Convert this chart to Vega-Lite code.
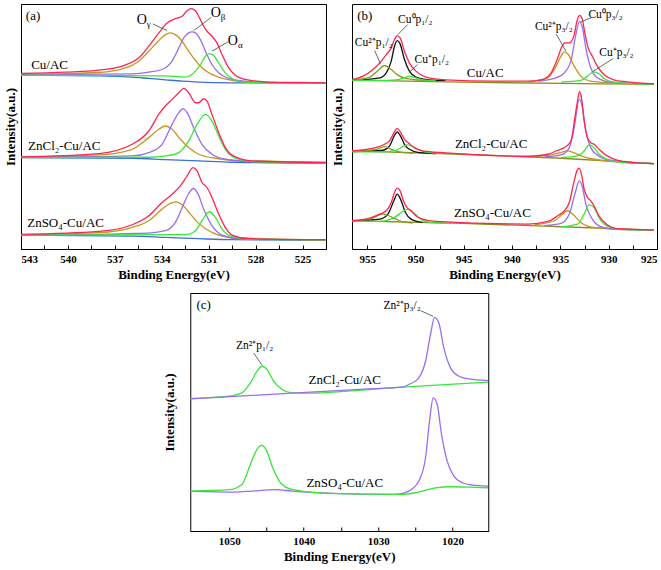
{
  "$schema": "https://vega.github.io/schema/vega-lite/v6.json",
  "padding": {"left": 3, "top": 3, "right": 0, "bottom": 0},
  "background": "white",
  "config": {
    "view": {"stroke": "#000", "strokeWidth": 1},
    "axis": {
      "grid": false,
      "labelFont": "Liberation Serif",
      "labelFontWeight": "bold",
      "labelFontSize": 11,
      "labelColor": "#000",
      "titleFont": "Liberation Serif",
      "titleFontWeight": "bold",
      "titleFontSize": 13,
      "titleColor": "#000",
      "domainColor": "#000",
      "tickColor": "#000",
      "labelOverlap": false,
      "labelBound": false
    }
  },
  "datasets": {
    "a": [
      {"s":1,"k":"bg","x":543.00,"y":523},{"s":1,"k":"bg","x":538.02,"y":521},{"s":1,"k":"bg","x":535.89,"y":517},{"s":1,"k":"bg","x":534.83,"y":513},{"s":1,"k":"bg","x":533.77,"y":509},{"s":1,"k":"bg","x":532.70,"y":505},{"s":1,"k":"bg","x":531.64,"y":502},{"s":1,"k":"bg","x":529.51,"y":500},{"s":1,"k":"bg","x":523.51,"y":499},
      {"s":1,"k":"g","x":543.00,"y":525},{"s":1,"k":"g","x":538.02,"y":531},{"s":1,"k":"g","x":536.32,"y":545},{"s":1,"k":"g","x":535.47,"y":565},{"s":1,"k":"g","x":534.83,"y":595},{"s":1,"k":"g","x":534.19,"y":627},{"s":1,"k":"g","x":533.77,"y":645},{"s":1,"k":"g","x":533.45,"y":650},{"s":1,"k":"g","x":533.13,"y":645},{"s":1,"k":"g","x":532.70,"y":625},{"s":1,"k":"g","x":532.28,"y":595},{"s":1,"k":"g","x":531.64,"y":555},{"s":1,"k":"g","x":531.00,"y":530},{"s":1,"k":"g","x":530.36,"y":517},{"s":1,"k":"g","x":529.51,"y":507},{"s":1,"k":"g","x":528.45,"y":502},{"s":1,"k":"g","x":523.51,"y":499},
      {"s":1,"k":"b","x":543.00,"y":524},{"s":1,"k":"b","x":535.89,"y":527},{"s":1,"k":"b","x":534.83,"y":532},{"s":1,"k":"b","x":533.98,"y":540},{"s":1,"k":"b","x":533.34,"y":565},{"s":1,"k":"b","x":532.91,"y":605},{"s":1,"k":"b","x":532.60,"y":635},{"s":1,"k":"b","x":532.28,"y":650},{"s":1,"k":"b","x":532.06,"y":653},{"s":1,"k":"b","x":531.85,"y":650},{"s":1,"k":"b","x":531.53,"y":630},{"s":1,"k":"b","x":531.21,"y":595},{"s":1,"k":"b","x":530.79,"y":555},{"s":1,"k":"b","x":530.36,"y":530},{"s":1,"k":"b","x":529.72,"y":513},{"s":1,"k":"b","x":529.09,"y":507},{"s":1,"k":"b","x":527.38,"y":501},{"s":1,"k":"b","x":523.51,"y":499},
      {"s":1,"k":"al","x":543.00,"y":523},{"s":1,"k":"al","x":533.77,"y":521},{"s":1,"k":"al","x":532.49,"y":517},{"s":1,"k":"al","x":531.85,"y":535},{"s":1,"k":"al","x":531.53,"y":555},{"s":1,"k":"al","x":531.21,"y":580},{"s":1,"k":"al","x":530.96,"y":588},{"s":1,"k":"al","x":530.68,"y":582},{"s":1,"k":"al","x":530.36,"y":560},{"s":1,"k":"al","x":529.94,"y":530},{"s":1,"k":"al","x":529.51,"y":513},{"s":1,"k":"al","x":528.87,"y":503},{"s":1,"k":"al","x":527.38,"y":500},{"s":1,"k":"al","x":523.51,"y":499},
      {"s":1,"k":"env","x":543.00,"y":528},{"s":1,"k":"env","x":540.15,"y":532},{"s":1,"k":"env","x":538.02,"y":538},{"s":1,"k":"env","x":536.53,"y":550},{"s":1,"k":"env","x":535.47,"y":575},{"s":1,"k":"env","x":534.83,"y":610},{"s":1,"k":"env","x":534.19,"y":650},{"s":1,"k":"env","x":533.66,"y":680},{"s":1,"k":"env","x":533.13,"y":693},{"s":1,"k":"env","x":532.70,"y":700},{"s":1,"k":"env","x":532.38,"y":717},{"s":1,"k":"env","x":532.13,"y":723},{"s":1,"k":"env","x":531.85,"y":717},{"s":1,"k":"env","x":531.64,"y":700},{"s":1,"k":"env","x":531.32,"y":670},{"s":1,"k":"env","x":531.11,"y":655},{"s":1,"k":"env","x":530.79,"y":640},{"s":1,"k":"env","x":530.47,"y":620},{"s":1,"k":"env","x":530.15,"y":585},{"s":1,"k":"env","x":529.72,"y":545},{"s":1,"k":"env","x":529.30,"y":523},{"s":1,"k":"env","x":528.66,"y":510},{"s":1,"k":"env","x":527.38,"y":503},{"s":1,"k":"env","x":525.26,"y":501},{"s":1,"k":"env","x":523.51,"y":500},

      {"s":2,"k":"bg","x":543.00,"y":275},{"s":2,"k":"bg","x":535.89,"y":273},{"s":2,"k":"bg","x":533.77,"y":269},{"s":2,"k":"bg","x":531.64,"y":265},{"s":2,"k":"bg","x":529.51,"y":261},{"s":2,"k":"bg","x":523.51,"y":258},
      {"s":2,"k":"g","x":543.00,"y":277},{"s":2,"k":"g","x":538.02,"y":283},{"s":2,"k":"g","x":535.89,"y":300},{"s":2,"k":"g","x":534.83,"y":335},{"s":2,"k":"g","x":534.19,"y":360},{"s":2,"k":"g","x":533.77,"y":370},{"s":2,"k":"g","x":533.34,"y":360},{"s":2,"k":"g","x":532.81,"y":330},{"s":2,"k":"g","x":532.28,"y":305},{"s":2,"k":"g","x":531.64,"y":285},{"s":2,"k":"g","x":530.57,"y":273},{"s":2,"k":"g","x":529.51,"y":267},{"s":2,"k":"g","x":523.51,"y":261},
      {"s":2,"k":"b","x":543.00,"y":276},{"s":2,"k":"b","x":535.89,"y":280},{"s":2,"k":"b","x":534.83,"y":290},{"s":2,"k":"b","x":533.98,"y":315},{"s":2,"k":"b","x":533.34,"y":375},{"s":2,"k":"b","x":532.91,"y":410},{"s":2,"k":"b","x":532.64,"y":422},{"s":2,"k":"b","x":532.38,"y":410},{"s":2,"k":"b","x":531.96,"y":365},{"s":2,"k":"b","x":531.43,"y":315},{"s":2,"k":"b","x":530.79,"y":285},{"s":2,"k":"b","x":529.94,"y":270},{"s":2,"k":"b","x":528.45,"y":263},{"s":2,"k":"b","x":523.51,"y":259},
      {"s":2,"k":"al","x":543.00,"y":275},{"s":2,"k":"al","x":534.83,"y":276},{"s":2,"k":"al","x":533.77,"y":280},{"s":2,"k":"al","x":532.91,"y":290},{"s":2,"k":"al","x":532.28,"y":325},{"s":2,"k":"al","x":531.74,"y":375},{"s":2,"k":"al","x":531.21,"y":405},{"s":2,"k":"al","x":530.79,"y":385},{"s":2,"k":"al","x":530.36,"y":340},{"s":2,"k":"al","x":529.94,"y":300},{"s":2,"k":"al","x":529.30,"y":273},{"s":2,"k":"al","x":528.23,"y":263},{"s":2,"k":"al","x":523.51,"y":258},
      {"s":2,"k":"env","x":543.00,"y":277},{"s":2,"k":"env","x":538.02,"y":287},{"s":2,"k":"env","x":535.89,"y":315},{"s":2,"k":"env","x":534.83,"y":355},{"s":2,"k":"env","x":534.19,"y":405},{"s":2,"k":"env","x":533.77,"y":430},{"s":2,"k":"env","x":533.34,"y":450},{"s":2,"k":"env","x":532.91,"y":470},{"s":2,"k":"env","x":532.60,"y":483},{"s":2,"k":"env","x":532.28,"y":470},{"s":2,"k":"env","x":531.85,"y":440},{"s":2,"k":"env","x":531.64,"y":440},{"s":2,"k":"env","x":531.32,"y":452},{"s":2,"k":"env","x":531.11,"y":445},{"s":2,"k":"env","x":530.79,"y":405},{"s":2,"k":"env","x":530.36,"y":350},{"s":2,"k":"env","x":529.94,"y":305},{"s":2,"k":"env","x":529.30,"y":277},{"s":2,"k":"env","x":528.23,"y":265},{"s":2,"k":"env","x":523.51,"y":260},

      {"s":3,"k":"bg","x":543.00,"y":42},{"s":3,"k":"bg","x":535.89,"y":39},{"s":3,"k":"bg","x":533.77,"y":35},{"s":3,"k":"bg","x":531.64,"y":31},{"s":3,"k":"bg","x":529.51,"y":28},{"s":3,"k":"bg","x":523.51,"y":27},
      {"s":3,"k":"g","x":543.00,"y":43},{"s":3,"k":"g","x":538.02,"y":49},{"s":3,"k":"g","x":535.89,"y":65},{"s":3,"k":"g","x":534.83,"y":85},{"s":3,"k":"g","x":533.98,"y":120},{"s":3,"k":"g","x":533.45,"y":137},{"s":3,"k":"g","x":533.09,"y":142},{"s":3,"k":"g","x":532.70,"y":133},{"s":3,"k":"g","x":532.17,"y":105},{"s":3,"k":"g","x":531.64,"y":77},{"s":3,"k":"g","x":530.79,"y":50},{"s":3,"k":"g","x":529.51,"y":35},{"s":3,"k":"g","x":523.51,"y":27},
      {"s":3,"k":"b","x":543.00,"y":42},{"s":3,"k":"b","x":534.83,"y":48},{"s":3,"k":"b","x":533.77,"y":55},{"s":3,"k":"b","x":533.13,"y":80},{"s":3,"k":"b","x":532.60,"y":135},{"s":3,"k":"b","x":532.28,"y":167},{"s":3,"k":"b","x":531.98,"y":182},{"s":3,"k":"b","x":531.68,"y":165},{"s":3,"k":"b","x":531.32,"y":120},{"s":3,"k":"b","x":530.79,"y":70},{"s":3,"k":"b","x":530.15,"y":42},{"s":3,"k":"b","x":529.09,"y":31},{"s":3,"k":"b","x":523.51,"y":27},
      {"s":3,"k":"al","x":543.00,"y":42},{"s":3,"k":"al","x":532.49,"y":43},{"s":3,"k":"al","x":531.85,"y":55},{"s":3,"k":"al","x":531.43,"y":85},{"s":3,"k":"al","x":530.96,"y":112},{"s":3,"k":"al","x":530.57,"y":95},{"s":3,"k":"al","x":530.15,"y":60},{"s":3,"k":"al","x":529.51,"y":37},{"s":3,"k":"al","x":528.45,"y":29},{"s":3,"k":"al","x":523.51,"y":27},
      {"s":3,"k":"env","x":543.00,"y":44},{"s":3,"k":"env","x":538.02,"y":53},{"s":3,"k":"env","x":535.89,"y":73},{"s":3,"k":"env","x":534.83,"y":100},{"s":3,"k":"env","x":533.98,"y":140},{"s":3,"k":"env","x":533.34,"y":165},{"s":3,"k":"env","x":532.81,"y":190},{"s":3,"k":"env","x":532.38,"y":220},{"s":3,"k":"env","x":532.00,"y":245},{"s":3,"k":"env","x":531.74,"y":235},{"s":3,"k":"env","x":531.43,"y":200},{"s":3,"k":"env","x":531.11,"y":185},{"s":3,"k":"env","x":530.79,"y":155},{"s":3,"k":"env","x":530.36,"y":105},{"s":3,"k":"env","x":529.94,"y":65},{"s":3,"k":"env","x":529.51,"y":42},{"s":3,"k":"env","x":528.45,"y":31},{"s":3,"k":"env","x":523.51,"y":28}
    ],
    "b": [
      {"s":1,"k":"bgb","x":956.57,"y":508},{"s":1,"k":"bgb","x":945.17,"y":502},{"s":1,"k":"bgb","x":934.93,"y":498},{"s":1,"k":"bgb","x":925.31,"y":496},
      {"s":1,"k":"c0a","x":956.57,"y":507},{"s":1,"k":"c0a","x":953.70,"y":515},{"s":1,"k":"c0a","x":953.02,"y":530},{"s":1,"k":"c0a","x":952.51,"y":565},{"s":1,"k":"c0a","x":952.17,"y":610},{"s":1,"k":"c0a","x":951.89,"y":627},{"s":1,"k":"c0a","x":951.59,"y":617},{"s":1,"k":"c0a","x":951.14,"y":570},{"s":1,"k":"c0a","x":950.63,"y":535},{"s":1,"k":"c0a","x":949.95,"y":517},{"s":1,"k":"c0a","x":948.58,"y":509},{"s":1,"k":"c0a","x":946.88,"y":507},
      {"s":1,"k":"c2a","x":956.57,"y":508},{"s":1,"k":"c2a","x":954.73,"y":517},{"s":1,"k":"c2a","x":953.87,"y":537},{"s":1,"k":"c2a","x":953.19,"y":552},{"s":1,"k":"c2a","x":952.51,"y":540},{"s":1,"k":"c2a","x":951.83,"y":523},{"s":1,"k":"c2a","x":950.97,"y":513},{"s":1,"k":"c2a","x":949.61,"y":508},{"s":1,"k":"c2a","x":947.90,"y":506},
      {"s":1,"k":"c1a","x":956.57,"y":507},{"s":1,"k":"c1a","x":953.70,"y":507},{"s":1,"k":"c1a","x":952.00,"y":509},{"s":1,"k":"c1a","x":951.14,"y":515},{"s":1,"k":"c1a","x":950.63,"y":520},{"s":1,"k":"c1a","x":950.12,"y":516},{"s":1,"k":"c1a","x":949.27,"y":509},{"s":1,"k":"c1a","x":947.90,"y":506},
      {"s":1,"k":"c2b","x":938.34,"y":503},{"s":1,"k":"c2b","x":936.30,"y":515},{"s":1,"k":"c2b","x":935.44,"y":550},{"s":1,"k":"c2b","x":934.93,"y":580},{"s":1,"k":"c2b","x":934.59,"y":593},{"s":1,"k":"c2b","x":934.18,"y":585},{"s":1,"k":"c2b","x":933.57,"y":550},{"s":1,"k":"c2b","x":932.88,"y":520},{"s":1,"k":"c2b","x":931.86,"y":505},{"s":1,"k":"c2b","x":929.81,"y":500},{"s":1,"k":"c2b","x":925.31,"y":496},
      {"s":1,"k":"c0b","x":937.32,"y":505},{"s":1,"k":"c0b","x":935.61,"y":513},{"s":1,"k":"c0b","x":934.59,"y":530},{"s":1,"k":"c0b","x":933.91,"y":565},{"s":1,"k":"c0b","x":933.40,"y":645},{"s":1,"k":"c0b","x":933.02,"y":685},{"s":1,"k":"c0b","x":932.71,"y":665},{"s":1,"k":"c0b","x":932.37,"y":605},{"s":1,"k":"c0b","x":931.86,"y":545},{"s":1,"k":"c0b","x":931.18,"y":515},{"s":1,"k":"c0b","x":929.81,"y":502},{"s":1,"k":"c0b","x":925.31,"y":496},
      {"s":1,"k":"c1b","x":934.93,"y":502},{"s":1,"k":"c1b","x":932.88,"y":507},{"s":1,"k":"c1b","x":932.20,"y":520},{"s":1,"k":"c1b","x":931.52,"y":533},{"s":1,"k":"c1b","x":931.01,"y":527},{"s":1,"k":"c1b","x":930.49,"y":513},{"s":1,"k":"c1b","x":929.47,"y":502},{"s":1,"k":"c1b","x":928.11,"y":498},{"s":1,"k":"c1b","x":925.31,"y":496},
      {"s":1,"k":"env","x":956.57,"y":509},{"s":1,"k":"env","x":955.41,"y":520},{"s":1,"k":"env","x":954.39,"y":540},{"s":1,"k":"env","x":953.70,"y":560},{"s":1,"k":"env","x":953.02,"y":585},{"s":1,"k":"env","x":952.51,"y":605},{"s":1,"k":"env","x":952.17,"y":630},{"s":1,"k":"env","x":951.89,"y":642},{"s":1,"k":"env","x":951.59,"y":635},{"s":1,"k":"env","x":951.14,"y":595},{"s":1,"k":"env","x":950.63,"y":560},{"s":1,"k":"env","x":949.95,"y":535},{"s":1,"k":"env","x":948.92,"y":517},{"s":1,"k":"env","x":946.88,"y":509},{"s":1,"k":"env","x":941.76,"y":505},{"s":1,"k":"env","x":938.34,"y":505},{"s":1,"k":"env","x":936.98,"y":509},{"s":1,"k":"env","x":935.96,"y":530},{"s":1,"k":"env","x":935.27,"y":575},{"s":1,"k":"env","x":934.83,"y":610},{"s":1,"k":"env","x":934.52,"y":620},{"s":1,"k":"env","x":934.08,"y":620},{"s":1,"k":"env","x":933.57,"y":645},{"s":1,"k":"env","x":933.29,"y":685},{"s":1,"k":"env","x":933.02,"y":703},{"s":1,"k":"env","x":932.75,"y":693},{"s":1,"k":"env","x":932.47,"y":650},{"s":1,"k":"env","x":932.13,"y":605},{"s":1,"k":"env","x":931.69,"y":580},{"s":1,"k":"env","x":931.18,"y":550},{"s":1,"k":"env","x":930.49,"y":525},{"s":1,"k":"env","x":929.47,"y":509},{"s":1,"k":"env","x":928.11,"y":503},{"s":1,"k":"env","x":925.31,"y":497},

      {"s":2,"k":"bgb","x":956.57,"y":295},{"s":2,"k":"bgb","x":945.17,"y":285},{"s":2,"k":"bgb","x":934.93,"y":273},{"s":2,"k":"bgb","x":925.31,"y":257},
      {"s":2,"k":"c0a","x":956.57,"y":293},{"s":2,"k":"c0a","x":953.36,"y":297},{"s":2,"k":"c0a","x":952.68,"y":310},{"s":2,"k":"c0a","x":952.17,"y":342},{"s":2,"k":"c0a","x":951.89,"y":352},{"s":2,"k":"c0a","x":951.59,"y":342},{"s":2,"k":"c0a","x":951.14,"y":315},{"s":2,"k":"c0a","x":950.63,"y":300},{"s":2,"k":"c0a","x":949.61,"y":290},{"s":2,"k":"c0a","x":947.90,"y":287},
      {"s":2,"k":"c2a","x":956.57,"y":294},{"s":2,"k":"c2a","x":954.04,"y":300},{"s":2,"k":"c2a","x":953.19,"y":308},{"s":2,"k":"c2a","x":952.51,"y":300},{"s":2,"k":"c2a","x":951.66,"y":292},{"s":2,"k":"c2a","x":950.29,"y":288},
      {"s":2,"k":"c1a","x":956.57,"y":292},{"s":2,"k":"c1a","x":953.70,"y":292},{"s":2,"k":"c1a","x":952.00,"y":297},{"s":2,"k":"c1a","x":951.31,"y":308},{"s":2,"k":"c1a","x":950.80,"y":313},{"s":2,"k":"c1a","x":950.29,"y":308},{"s":2,"k":"c1a","x":949.61,"y":298},{"s":2,"k":"c1a","x":948.58,"y":290},{"s":2,"k":"c1a","x":946.88,"y":288},
      {"s":2,"k":"c2b","x":938.34,"y":277},{"s":2,"k":"c2b","x":935.96,"y":283},{"s":2,"k":"c2b","x":934.93,"y":291},{"s":2,"k":"c2b","x":934.25,"y":295},{"s":2,"k":"c2b","x":933.57,"y":289},{"s":2,"k":"c2b","x":932.54,"y":277},{"s":2,"k":"c2b","x":930.84,"y":267},{"s":2,"k":"c2b","x":925.31,"y":257},
      {"s":2,"k":"c0b","x":936.64,"y":277},{"s":2,"k":"c0b","x":934.93,"y":283},{"s":2,"k":"c0b","x":934.08,"y":305},{"s":2,"k":"c0b","x":933.57,"y":365},{"s":2,"k":"c0b","x":933.05,"y":450},{"s":2,"k":"c0b","x":932.71,"y":425},{"s":2,"k":"c0b","x":932.37,"y":355},{"s":2,"k":"c0b","x":931.86,"y":305},{"s":2,"k":"c0b","x":931.18,"y":283},{"s":2,"k":"c0b","x":929.81,"y":267},{"s":2,"k":"c0b","x":925.31,"y":257},
      {"s":2,"k":"c1b","x":934.93,"y":275},{"s":2,"k":"c1b","x":933.23,"y":280},{"s":2,"k":"c1b","x":932.54,"y":295},{"s":2,"k":"c1b","x":932.03,"y":313},{"s":2,"k":"c1b","x":931.52,"y":305},{"s":2,"k":"c1b","x":931.01,"y":285},{"s":2,"k":"c1b","x":930.15,"y":270},{"s":2,"k":"c1b","x":928.79,"y":261},{"s":2,"k":"c1b","x":925.31,"y":257},
      {"s":2,"k":"env","x":956.57,"y":295},{"s":2,"k":"env","x":954.73,"y":301},{"s":2,"k":"env","x":953.70,"y":309},{"s":2,"k":"env","x":953.19,"y":315},{"s":2,"k":"env","x":952.68,"y":325},{"s":2,"k":"env","x":952.17,"y":353},{"s":2,"k":"env","x":951.89,"y":363},{"s":2,"k":"env","x":951.59,"y":353},{"s":2,"k":"env","x":951.14,"y":330},{"s":2,"k":"env","x":950.63,"y":317},{"s":2,"k":"env","x":950.12,"y":305},{"s":2,"k":"env","x":949.27,"y":295},{"s":2,"k":"env","x":946.88,"y":289},{"s":2,"k":"env","x":938.34,"y":279},{"s":2,"k":"env","x":936.30,"y":285},{"s":2,"k":"env","x":935.27,"y":297},{"s":2,"k":"env","x":934.59,"y":305},{"s":2,"k":"env","x":933.91,"y":325},{"s":2,"k":"env","x":933.50,"y":395},{"s":2,"k":"env","x":933.23,"y":445},{"s":2,"k":"env","x":933.02,"y":473},{"s":2,"k":"env","x":932.82,"y":455},{"s":2,"k":"env","x":932.54,"y":385},{"s":2,"k":"env","x":932.20,"y":335},{"s":2,"k":"env","x":931.86,"y":320},{"s":2,"k":"env","x":931.52,"y":315},{"s":2,"k":"env","x":931.01,"y":300},{"s":2,"k":"env","x":930.15,"y":280},{"s":2,"k":"env","x":929.13,"y":267},{"s":2,"k":"env","x":927.42,"y":260},{"s":2,"k":"env","x":925.31,"y":257},

      {"s":3,"k":"bgb","x":956.57,"y":85},{"s":3,"k":"bgb","x":945.17,"y":77},{"s":3,"k":"bgb","x":934.93,"y":67},{"s":3,"k":"bgb","x":925.31,"y":57},
      {"s":3,"k":"c0a","x":956.57,"y":85},{"s":3,"k":"c0a","x":953.70,"y":90},{"s":3,"k":"c0a","x":952.85,"y":105},{"s":3,"k":"c0a","x":952.24,"y":145},{"s":3,"k":"c0a","x":951.89,"y":165},{"s":3,"k":"c0a","x":951.55,"y":150},{"s":3,"k":"c0a","x":951.04,"y":110},{"s":3,"k":"c0a","x":950.46,"y":90},{"s":3,"k":"c0a","x":949.27,"y":80},
      {"s":3,"k":"c2a","x":956.57,"y":85},{"s":3,"k":"c2a","x":954.73,"y":90},{"s":3,"k":"c2a","x":953.36,"y":105},{"s":3,"k":"c2a","x":952.51,"y":97},{"s":3,"k":"c2a","x":951.66,"y":85},{"s":3,"k":"c2a","x":950.29,"y":78},
      {"s":3,"k":"c1a","x":956.57,"y":84},{"s":3,"k":"c1a","x":953.70,"y":83},{"s":3,"k":"c1a","x":952.17,"y":95},{"s":3,"k":"c1a","x":951.31,"y":113},{"s":3,"k":"c1a","x":950.80,"y":120},{"s":3,"k":"c1a","x":950.29,"y":112},{"s":3,"k":"c1a","x":949.61,"y":93},{"s":3,"k":"c1a","x":948.58,"y":80},{"s":3,"k":"c1a","x":946.88,"y":78},
      {"s":3,"k":"c2b","x":937.66,"y":73},{"s":3,"k":"c2b","x":935.61,"y":85},{"s":3,"k":"c2b","x":934.76,"y":105},{"s":3,"k":"c2b","x":934.25,"y":115},{"s":3,"k":"c2b","x":933.74,"y":105},{"s":3,"k":"c2b","x":932.88,"y":80},{"s":3,"k":"c2b","x":931.52,"y":65},{"s":3,"k":"c2b","x":925.31,"y":57},
      {"s":3,"k":"c0b","x":936.64,"y":70},{"s":3,"k":"c0b","x":934.93,"y":77},{"s":3,"k":"c0b","x":934.08,"y":105},{"s":3,"k":"c0b","x":933.50,"y":165},{"s":3,"k":"c0b","x":933.05,"y":205},{"s":3,"k":"c0b","x":932.71,"y":185},{"s":3,"k":"c0b","x":932.37,"y":135},{"s":3,"k":"c0b","x":931.69,"y":90},{"s":3,"k":"c0b","x":930.84,"y":67},{"s":3,"k":"c0b","x":929.47,"y":59},{"s":3,"k":"c0b","x":925.31,"y":57},
      {"s":3,"k":"c1b","x":934.93,"y":67},{"s":3,"k":"c1b","x":933.23,"y":75},{"s":3,"k":"c1b","x":932.54,"y":105},{"s":3,"k":"c1b","x":932.03,"y":133},{"s":3,"k":"c1b","x":931.52,"y":125},{"s":3,"k":"c1b","x":931.01,"y":95},{"s":3,"k":"c1b","x":930.15,"y":69},{"s":3,"k":"c1b","x":928.79,"y":59},{"s":3,"k":"c1b","x":925.31,"y":57},
      {"s":3,"k":"env","x":956.57,"y":85},{"s":3,"k":"env","x":954.73,"y":93},{"s":3,"k":"env","x":953.70,"y":105},{"s":3,"k":"env","x":953.02,"y":115},{"s":3,"k":"env","x":952.51,"y":140},{"s":3,"k":"env","x":952.17,"y":170},{"s":3,"k":"env","x":951.89,"y":183},{"s":3,"k":"env","x":951.59,"y":175},{"s":3,"k":"env","x":951.25,"y":145},{"s":3,"k":"env","x":950.90,"y":125},{"s":3,"k":"env","x":950.46,"y":115},{"s":3,"k":"env","x":949.95,"y":100},{"s":3,"k":"env","x":949.27,"y":90},{"s":3,"k":"env","x":947.90,"y":83},{"s":3,"k":"env","x":938.34,"y":75},{"s":3,"k":"env","x":936.30,"y":83},{"s":3,"k":"env","x":935.27,"y":100},{"s":3,"k":"env","x":934.59,"y":115},{"s":3,"k":"env","x":934.08,"y":140},{"s":3,"k":"env","x":933.57,"y":205},{"s":3,"k":"env","x":933.29,"y":235},{"s":3,"k":"env","x":933.05,"y":243},{"s":3,"k":"env","x":932.82,"y":225},{"s":3,"k":"env","x":932.54,"y":180},{"s":3,"k":"env","x":932.20,"y":155},{"s":3,"k":"env","x":931.86,"y":145},{"s":3,"k":"env","x":931.52,"y":130},{"s":3,"k":"env","x":931.01,"y":100},{"s":3,"k":"env","x":930.15,"y":73},{"s":3,"k":"env","x":929.13,"y":61},{"s":3,"k":"env","x":925.31,"y":57}
    ],
    "c": [
      {"s":1,"k":"p12","x":1055.25,"y":398},{"s":1,"k":"p12","x":1050.09,"y":405},{"s":1,"k":"p12","x":1048.30,"y":415},{"s":1,"k":"p12","x":1047.17,"y":445},{"s":1,"k":"p12","x":1046.28,"y":480},{"s":1,"k":"p12","x":1045.61,"y":495},{"s":1,"k":"p12","x":1044.93,"y":485},{"s":1,"k":"p12","x":1044.04,"y":450},{"s":1,"k":"p12","x":1042.91,"y":425},{"s":1,"k":"p12","x":1041.57,"y":415},{"s":1,"k":"p12","x":1039.33,"y":414},{"s":1,"k":"p12","x":1031.26,"y":425},{"s":1,"k":"p12","x":1026.77,"y":432},{"s":1,"k":"p12","x":1015.20,"y":447},
      {"s":1,"k":"p32","x":1055.25,"y":397},{"s":1,"k":"p32","x":1041.57,"y":414},{"s":1,"k":"p32","x":1031.26,"y":427},{"s":1,"k":"p32","x":1026.77,"y":432},{"s":1,"k":"p32","x":1025.87,"y":440},{"s":1,"k":"p32","x":1024.53,"y":460},{"s":1,"k":"p32","x":1023.63,"y":510},{"s":1,"k":"p32","x":1022.96,"y":590},{"s":1,"k":"p32","x":1022.42,"y":642},{"s":1,"k":"p32","x":1021.84,"y":625},{"s":1,"k":"p32","x":1021.17,"y":550},{"s":1,"k":"p32","x":1020.27,"y":490},{"s":1,"k":"p32","x":1019.15,"y":465},{"s":1,"k":"p32","x":1017.80,"y":457},{"s":1,"k":"p32","x":1015.20,"y":452},
      {"s":2,"k":"p32","x":1055.25,"y":120},{"s":2,"k":"p32","x":1049.19,"y":117},{"s":2,"k":"p32","x":1046.95,"y":120},{"s":2,"k":"p32","x":1043.81,"y":124},{"s":2,"k":"p32","x":1041.57,"y":120},{"s":2,"k":"p32","x":1035.74,"y":113},{"s":2,"k":"p32","x":1031.26,"y":110},{"s":2,"k":"p32","x":1027.67,"y":110},{"s":2,"k":"p32","x":1025.87,"y":120},{"s":2,"k":"p32","x":1024.53,"y":150},{"s":2,"k":"p32","x":1023.63,"y":220},{"s":2,"k":"p32","x":1023.09,"y":330},{"s":2,"k":"p32","x":1022.60,"y":400},{"s":2,"k":"p32","x":1022.06,"y":380},{"s":2,"k":"p32","x":1021.48,"y":290},{"s":2,"k":"p32","x":1020.72,"y":210},{"s":2,"k":"p32","x":1019.82,"y":165},{"s":2,"k":"p32","x":1018.70,"y":145},{"s":2,"k":"p32","x":1017.35,"y":138},{"s":2,"k":"p32","x":1015.20,"y":135},
      {"s":2,"k":"p12","x":1055.25,"y":120},{"s":2,"k":"p12","x":1050.09,"y":124},{"s":2,"k":"p12","x":1048.30,"y":140},{"s":2,"k":"p12","x":1047.17,"y":200},{"s":2,"k":"p12","x":1046.28,"y":245},{"s":2,"k":"p12","x":1045.70,"y":257},{"s":2,"k":"p12","x":1045.07,"y":245},{"s":2,"k":"p12","x":1044.17,"y":190},{"s":2,"k":"p12","x":1043.14,"y":145},{"s":2,"k":"p12","x":1041.57,"y":125},{"s":2,"k":"p12","x":1035.74,"y":112},{"s":2,"k":"p12","x":1026.77,"y":110},{"s":2,"k":"p12","x":1024.98,"y":115},{"s":2,"k":"p12","x":1023.18,"y":125},{"s":2,"k":"p12","x":1022.06,"y":130},{"s":2,"k":"p12","x":1020.49,"y":133},{"s":2,"k":"p12","x":1017.80,"y":132},{"s":2,"k":"p12","x":1015.20,"y":130}
    ],
    "ta": [
      {"x":542.23,"y":700,"t":"(a)"},{"x":541.17,"y":555,"t":"Cu/AC"},{"x":540.23,"y":310,"t":"ZnCl₂-Cu/AC"},{"x":540.15,"y":77,"t":"ZnSO₄-Cu/AC"}
    ],
    "oa": [
      {"x":535.28,"y":690,"t":"O","u":"γ"},{"x":530.55,"y":710,"t":"O","u":"β"},{"x":529.45,"y":627,"t":"O","u":"α"}
    ],
    "ra": [
      {"x":534.57,"y":677,"x2":533.66,"y2":657},{"x":531.96,"y":657,"x2":530.83,"y2":697},{"x":530.79,"y":595,"x2":529.77,"y2":623}
    ],
    "tb": [
      {"x":955.24,"y":700,"t":"(b)"},{"x":942.78,"y":530,"t":"Cu/AC"},{"x":942.17,"y":317,"t":"ZnCl₂-Cu/AC"},{"x":942.03,"y":108,"t":"ZnSO₄-Cu/AC"}
    ],
    "sb": [
      {"x":950.02,"y":690,"t":"Cu⁰p₁/₂"},{"x":954.32,"y":620,"t":"Cu²⁺p₁/₂"},{"x":948.31,"y":570,"t":"Cu⁺p₁/₂"},{"x":935.68,"y":667,"t":"Cu²⁺p₃/₂"},{"x":930.32,"y":703,"t":"Cu⁰p₃/₂"},{"x":929.20,"y":590,"t":"Cu⁺p₃/₂"}
    ],
    "rb": [
      {"x":951.83,"y":645,"x2":950.80,"y2":675},{"x":953.63,"y":557,"x2":954.22,"y2":597},{"x":950.70,"y":530,"x2":949.78,"y2":555},{"x":934.42,"y":595,"x2":935.44,"y2":647},{"x":932.88,"y":683,"x2":931.69,"y2":697},{"x":931.69,"y":533,"x2":929.54,"y2":573}
    ],
    "tc": [
      {"x":1053.45,"y":680,"t":"(c)"},{"x":1034.48,"y":455,"t":"ZnCl₂-Cu/AC"},{"x":1034.48,"y":145,"t":"ZnSO₄-Cu/AC"}
    ],
    "sc": [
      {"x":1026.77,"y":675,"t":"Zn²⁺p₃/₂"},{"x":1046.59,"y":555,"t":"Zn²⁺p₁/₂"}
    ],
    "rc": [
      {"x":1022.60,"y":645,"x2":1024.30,"y2":662},{"x":1045.61,"y":498,"x2":1046.73,"y2":535}
    ]
  },
  "center": true,
  "spacing": 10,
  "vconcat": [
    {
      "spacing": 3,
      "hconcat": [
        {
          "width": 305,
          "height": 245,
          "encoding": {
            "x": {"field": "x", "type": "quantitative", "scale": {"domain": [543, 523.5]},
              "axis": {"title": "Binding Energy(eV)", "values": [543, 541.5, 540, 538.5, 537, 535.5, 534, 532.5, 531, 529.5, 528, 526.5, 525],
                "labelExpr": "datum.value % 3 == 0 ? datum.label : ''", "tickSize": -4, "labelPadding": 8, "titlePadding": 4}},
            "y": {"field": "y", "type": "quantitative", "scale": {"domain": [0, 737]},
              "axis": {"title": "Intensity(a.u.)", "labels": false, "ticks": false, "domain": false, "titlePadding": 4}}
          },
          "layer": [
            {
              "data": {"name": "a"},
              "mark": {"type": "line", "interpolate": "monotone", "strokeWidth": 1.3, "clip": true},
              "encoding": {
                "color": {"field": "k", "type": "nominal", "legend": null,
                  "scale": {"domain": ["env","g","b","al","bg","c0a","c0b","c2a","c2b","c1a","c1b","bgb","p12","p32"],
                    "range": ["#ff2450","#c8961e","#9b6cf0","#36e836","#3a6fd8","#111111","#9b6cf0","#8a9a14","#c8961e","#36e836","#36e836","#8c8c1e","#36e836","#9b6cf0"]}},
                "detail": {"field": "s"}
              }
            },
            {"data": {"name": "ra"}, "mark": {"type": "rule", "color": "#444", "strokeWidth": 0.8},
              "encoding": {"x2": {"field": "x2"}, "y2": {"field": "y2"}}},
            {"data": {"name": "ta"}, "mark": {"type": "text", "font": "Liberation Serif", "fontSize": 13, "color": "#000"},
              "encoding": {"text": {"field": "t"}}},
            {"data": {"name": "oa"}, "mark": {"type": "text", "font": "Liberation Serif", "fontSize": 14, "color": "#000"},
              "encoding": {"text": {"field": "t"}}},
            {"data": {"name": "oa"}, "mark": {"type": "text", "font": "Liberation Serif", "fontSize": 9, "color": "#000", "align": "left", "dx": 5, "dy": 4},
              "encoding": {"text": {"field": "u"}}}
          ]
        },
        {
          "width": 305,
          "height": 245,
          "encoding": {
            "x": {"field": "x", "type": "quantitative", "scale": {"domain": [956.57, 925]},
              "axis": {"title": "Binding Energy(eV)", "values": [955, 952.5, 950, 947.5, 945, 942.5, 940, 937.5, 935, 932.5, 930, 927.5, 925],
                "labelExpr": "datum.value % 5 == 0 ? datum.label : ''", "tickSize": -4, "labelPadding": 8, "titlePadding": 4}},
            "y": {"field": "y", "type": "quantitative", "scale": {"domain": [0, 737]},
              "axis": {"title": "Intensity(a.u.)", "labels": false, "ticks": false, "domain": false, "titlePadding": 8}}
          },
          "layer": [
            {
              "data": {"name": "b"},
              "mark": {"type": "line", "interpolate": "monotone", "strokeWidth": 1.3, "clip": true},
              "encoding": {
                "color": {"field": "k", "type": "nominal", "legend": null,
                  "scale": {"domain": ["env","g","b","al","bg","c0a","c0b","c2a","c2b","c1a","c1b","bgb","p12","p32"],
                    "range": ["#ff2450","#c8961e","#9b6cf0","#36e836","#3a6fd8","#111111","#9b6cf0","#8a9a14","#c8961e","#36e836","#36e836","#8c8c1e","#36e836","#9b6cf0"]}},
                "detail": {"field": "s"}
              }
            },
            {"data": {"name": "rb"}, "mark": {"type": "rule", "color": "#444", "strokeWidth": 0.8},
              "encoding": {"x2": {"field": "x2"}, "y2": {"field": "y2"}}},
            {"data": {"name": "tb"}, "mark": {"type": "text", "font": "Liberation Serif", "fontSize": 13, "color": "#000"},
              "encoding": {"text": {"field": "t"}}},
            {"data": {"name": "sb"}, "mark": {"type": "text", "font": "Liberation Serif", "fontSize": 11.5, "color": "#000"},
              "encoding": {"text": {"field": "t"}}}
          ]
        }
      ]
    },
    {
      "width": 298,
      "height": 238,
      "encoding": {
        "x": {"field": "x", "type": "quantitative", "scale": {"domain": [1055.25, 1015.2]},
          "axis": {"title": "Binding Energy(eV)", "values": [1050, 1045, 1040, 1035, 1030, 1025, 1020], "format": "d",
            "labelExpr": "datum.value % 10 == 0 ? datum.label : ''", "tickSize": -4, "labelPadding": 8, "titlePadding": 4}},
        "y": {"field": "y", "type": "quantitative", "scale": {"domain": [0, 715]},
          "axis": {"title": "Intensity(a.u.)", "labels": false, "ticks": false, "domain": false, "titlePadding": 14}}
      },
      "layer": [
        {
          "data": {"name": "c"},
          "mark": {"type": "line", "interpolate": "monotone", "strokeWidth": 1.3, "clip": true},
          "encoding": {
            "color": {"field": "k", "type": "nominal", "legend": null,
              "scale": {"domain": ["env","g","b","al","bg","c0a","c0b","c2a","c2b","c1a","c1b","bgb","p12","p32"],
                "range": ["#ff2450","#c8961e","#9b6cf0","#36e836","#3a6fd8","#111111","#9b6cf0","#8a9a14","#c8961e","#36e836","#36e836","#8c8c1e","#36e836","#9b6cf0"]}},
            "detail": {"field": "s"}
          }
        },
        {"data": {"name": "rc"}, "mark": {"type": "rule", "color": "#444", "strokeWidth": 0.8},
          "encoding": {"x2": {"field": "x2"}, "y2": {"field": "y2"}}},
        {"data": {"name": "tc"}, "mark": {"type": "text", "font": "Liberation Serif", "fontSize": 13, "color": "#000"},
          "encoding": {"text": {"field": "t"}}},
        {"data": {"name": "sc"}, "mark": {"type": "text", "font": "Liberation Serif", "fontSize": 11.5, "color": "#000"},
          "encoding": {"text": {"field": "t"}}}
      ]
    }
  ]
}
